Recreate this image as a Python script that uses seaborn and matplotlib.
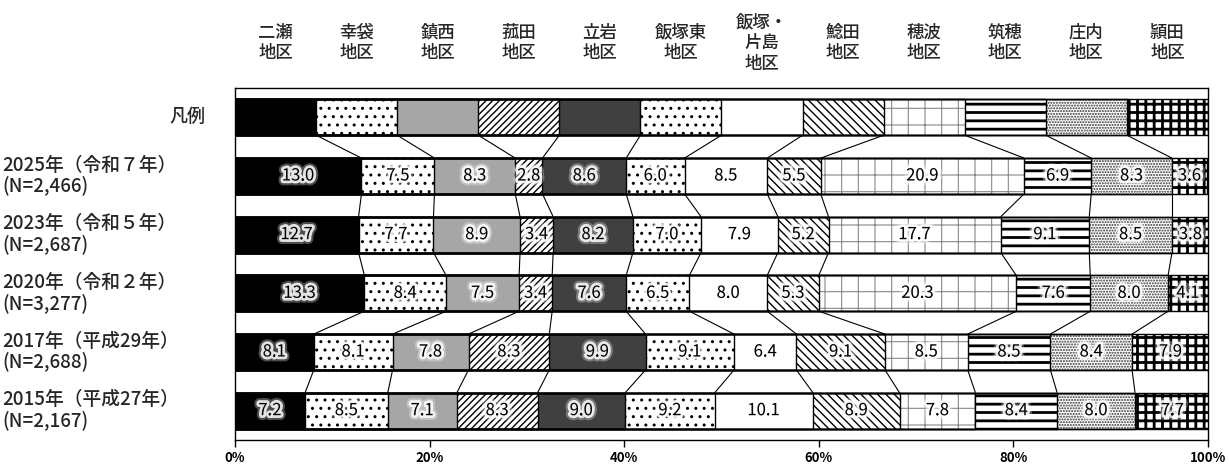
import numpy as np
import pandas as pd
import matplotlib
matplotlib.use("Agg")
import matplotlib.pyplot as plt
import matplotlib.patheffects as pe
from matplotlib.transforms import blended_transform_factory
import seaborn as sns

sns.set_theme(style="white")
plt.rcParams["font.family"] = ["Noto Sans CJK JP", "DejaVu Sans"]

# ---- data -------------------------------------------------------------
districts = ["二瀬\n地区", "幸袋\n地区", "鎮西\n地区", "菰田\n地区", "立岩\n地区",
             "飯塚東\n地区", "飯塚・\n片島\n地区", "鯰田\n地区", "穂波\n地区",
             "筑穂\n地区", "庄内\n地区", "頴田\n地区"]

legend_label = "凡例"
year_labels = ["2025年（令和７年）\n(N=2,466)",
               "2023年（令和５年）\n(N=2,687)",
               "2020年（令和２年）\n(N=3,277)",
               "2017年（平成29年）\n(N=2,688)",
               "2015年（平成27年）\n(N=2,167)"]

share_2025 = [13.0, 7.5, 8.3, 2.8, 8.6, 6.0, 8.5, 5.5, 20.9, 6.9, 8.3, 3.6]
share_2023 = [12.7, 7.7, 8.9, 3.4, 8.2, 7.0, 7.9, 5.2, 17.7, 9.1, 8.5, 3.8]
share_2020 = [13.3, 8.4, 7.5, 3.4, 7.6, 6.5, 8.0, 5.3, 20.3, 7.6, 8.0, 4.1]
share_2017 = [8.1, 8.1, 7.8, 8.3, 9.9, 9.1, 6.4, 9.1, 8.5, 8.5, 8.4, 7.9]
share_2015 = [7.2, 8.5, 7.1, 8.3, 9.0, 9.2, 10.1, 8.9, 7.8, 8.4, 8.0, 7.7]

tick_values = [0, 20, 40, 60, 80, 100]
tick_labels = ["0%", "20%", "40%", "60%", "80%", "100%"]

# ---- per-district fill styles: (face, hatch, hatch colour, hatch width) --
styles = [
    ("#000000", "",         "#000000", 1.0),
    ("#ffffff", "..",       "#000000", 1.0),
    ("#a6a6a6", "",         "#000000", 1.0),
    ("#ffffff", "/////",    "#000000", 1.0),
    ("#404040", "",         "#000000", 1.0),
    ("#ffffff", "..",       "#000000", 1.0),
    ("#ffffff", "",         "#000000", 1.0),
    ("#ffffff", "\\\\\\\\", "#000000", 1.0),
    ("#ffffff", "+",        "#888888", 0.8),
    ("#ffffff", "--",       "#000000", 2.0),
    ("#ffffff", "......",   "#333333", 1.0),
    ("#ffffff", "++",       "#000000", 2.0),
]

BAR_H = 0.61

rows = [legend_label] + year_labels
n = len(districts)
legend_share = [100.0 / n] * n
shares = np.array([legend_share, share_2025, share_2023, share_2020,
                   share_2017, share_2015])
cum = shares.cumsum(axis=1)

fig = plt.figure(figsize=(12.29, 4.66), dpi=100)
ax = fig.add_axes([0.1912, 0.0558, 0.9829 - 0.1912, 0.8112 - 0.0558])


def draw_layer(k, fill):
    df = pd.DataFrame({"row": rows, "cum": cum[:, k]})
    n0 = len(ax.patches)
    sns.barplot(data=df, x="cum", y="row", order=rows, orient="h",
                width=BAR_H, saturation=1, color="white", errorbar=None, ax=ax)
    face, hatch, hcol, hlw = styles[k]
    for p in ax.patches[n0:]:
        if fill:
            p.set_facecolor(face)
            p.set_edgecolor(hcol)
            p.set_linewidth(0)
            p.set_hatch(hatch if hatch else None)
            if hasattr(p, "set_hatch_linewidth"):
                p.set_hatch_linewidth(hlw)
            p.set_zorder(2)
        else:
            p.set_facecolor("none")
            p.set_edgecolor("black")
            p.set_linewidth(1.0)
            p.set_hatch(None)
            p.set_zorder(3)


# stacked segments: widest cumulative first, narrower ones on top
for k in reversed(range(n)):
    with plt.rc_context({"hatch.linewidth": styles[k][3]}):
        draw_layer(k, fill=True)
for k in reversed(range(n)):
    draw_layer(k, fill=False)

# series lines joining segment boundaries of neighbouring bars
for r in range(len(rows) - 1):
    for k in range(n - 1):
        ax.plot([cum[r, k], cum[r + 1, k]],
                [r + BAR_H / 2, r + 1 - BAR_H / 2],
                color="black", lw=0.8, zorder=1, solid_capstyle="butt")

# value labels with a soft white glow
glow = [pe.withStroke(linewidth=7, foreground="white", alpha=0.3),
        pe.withStroke(linewidth=4, foreground="white", alpha=0.85)]
for r in range(1, len(rows)):
    for k in range(n):
        v = shares[r, k]
        ax.text(cum[r, k] - v / 2, r, f"{v:.1f}", ha="center", va="center",
                fontsize=12, color="black", zorder=5, path_effects=glow)

# axes styling
ax.set_xlim(0, 100)
ax.set_ylim(len(rows) - 0.5, -0.5)
ax.set_xlabel("")
ax.set_ylabel("")
ax.set_xticks(tick_values)
ax.set_xticklabels(tick_labels, fontsize=9.5, fontweight="bold")
ax.set_yticks(range(len(rows)))
ax.set_yticklabels([""] * len(rows))
ax.tick_params(axis="x", direction="out", length=5, width=1, pad=3,
               bottom=True, colors="black")
ax.tick_params(axis="y", length=0)
for s in ax.spines.values():
    s.set_visible(True)
    s.set_color("black")
    s.set_linewidth(1.0)

# row labels on the left
tr = blended_transform_factory(fig.transFigure, ax.transData)
ax.text(205 / 1229, 0, legend_label, transform=tr, ha="right", va="center",
        fontsize=13, fontweight="medium")
for r, lab in enumerate(year_labels, start=1):
    ax.text(2 / 1229, r, lab, transform=tr, ha="left", va="center",
            fontsize=13.5, fontweight="medium", linespacing=1.12)

# district headers above the legend bar
tr_top = blended_transform_factory(ax.transData, fig.transFigure)
for k, name in enumerate(districts):
    ax.text((k + 0.5) * 100 / n, 1 - 43 / 466, name, transform=tr_top,
            ha="center", va="center", fontsize=12.5, fontweight="medium",
            linespacing=1.18)

fig.savefig("out.png", dpi=100)
